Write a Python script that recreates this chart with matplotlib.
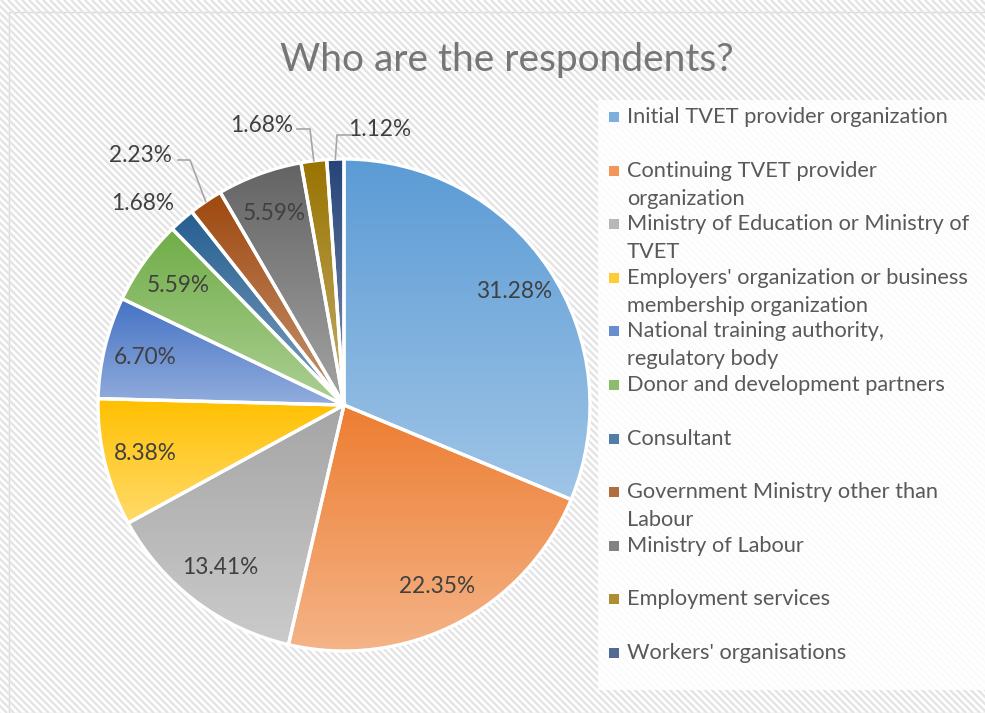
import numpy as np
import matplotlib.pyplot as plt
from matplotlib.patches import Rectangle
from matplotlib.collections import LineCollection
from matplotlib.colors import to_rgb

# Data
categories = [
    "Initial TVET provider organization",
    "Continuing TVET provider\norganization",
    "Ministry of Education or Ministry of\nTVET",
    "Employers' organization or business\nmembership organization",
    "National training authority,\nregulatory body",
    "Donor and development partners",
    "Consultant",
    "Government Ministry other than\nLabour",
    "Ministry of Labour",
    "Employment services",
    "Workers' organisations",
]
shares = [31.28, 22.35, 13.41, 8.38, 6.70, 5.59, 1.68, 2.23, 5.59, 1.68, 1.12]
colors = ["#5B9BD5", "#ED7D31", "#A5A5A5", "#FFC000", "#4472C4", "#70AD47",
          "#255E91", "#9E480E", "#636363", "#997300", "#264478"]

W, H = 985, 713
FONT = "Lato"


def py(y):
    # pixel row (from top) -> axes y (from bottom)
    return H - y


fig = plt.figure(figsize=(W / 100, H / 100), dpi=100)
ax = fig.add_axes([0, 0, 1, 1])
ax.set_axis_off()

# Chart area: light border + diagonal stripes
area = Rectangle((9, 0), W, py(12), facecolor="white", edgecolor="#D9D9D9", lw=1, zorder=0)
ax.add_patch(area)
step = 7
cs = np.arange(0, W + H + step, step)
segs = [[(c - H, H), (c, 0)] for c in cs]
stripes = LineCollection(segs, colors="#E4E4E4", linewidths=1.7, zorder=0.5)
stripes.set_clip_path(area)
ax.add_collection(stripes)

# Pie
CX, CY, R = 344, py(405), 246
wedges, _ = ax.pie(shares, center=(CX, CY), radius=R, startangle=90, counterclock=False,
                   wedgeprops=dict(linewidth=2.4, edgecolor="white", facecolor="none", zorder=3))

# vertical gradient in each slice: base colour at top, lighter tint at bottom
for w, col in zip(wedges, colors):
    base = np.array(to_rgb(col))
    light = base + (1 - base) * 0.42
    t = np.linspace(0, 1, 256)[:, None, None]
    grad = base * (1 - t) + light * t
    grad = np.repeat(grad, 2, axis=1)
    bb = w.get_path().get_extents()
    im = ax.imshow(grad, extent=[bb.x0, bb.x1, bb.y0, bb.y1], origin="upper",
                   aspect="auto", zorder=2, interpolation="bilinear")
    im.set_clip_path(w)

# Percentage labels
outside = {
    # index: (label centre, leader points) in pixels from top-left
    6: ((143, 203), None),
    7: ((140, 155), [(178, 160), (190, 160)]),
    9: ((262, 125), [(297, 129), (310, 129)]),
    10: ((380, 130), [(351, 135), (337, 135)]),
}
for i, (w, v) in enumerate(zip(wedges, shares)):
    mid = np.deg2rad((w.theta1 + w.theta2) / 2)
    txt = f"{v:.2f}%"
    if i in outside:
        (lx, ly), lead = outside[i]
        ax.text(lx, py(ly), txt, ha="center", va="center", fontsize=16.3,
                color="#404040", family=FONT, zorder=5)
        if lead:
            ex, ey = CX + R * np.cos(mid), CY + R * np.sin(mid)
            xs = [p[0] for p in lead] + [ex]
            ys = [py(p[1]) for p in lead] + [ey]
            ax.plot(xs, ys, color="#A6A6A6", lw=1.2, zorder=4)
    else:
        r = 0.83 * R
        ax.text(CX + r * np.cos(mid), CY + r * np.sin(mid), txt, ha="center", va="center",
                fontsize=16.3, color="#404040", family=FONT, zorder=5)

# Title
ax.text(507, py(60), "Who are the respondents?", ha="center", va="center",
        fontsize=28, color="#767676", family=FONT, zorder=5)

# Legend (Excel-style: fixed slot per entry, wrapped lines overflow)
ax.add_patch(Rectangle((598, py(690)), W - 598, 590, facecolor="white", alpha=0.85,
                       edgecolor="none", zorder=1))
slot0, slot_h, line_h = 117, 53.6, 28
for i, (lab, col) in enumerate(zip(categories, colors)):
    y0 = slot0 + i * slot_h
    base = np.array(to_rgb(col))
    ax.add_patch(Rectangle((609, py(y0 + 5)), 10, 10, facecolor=base + (1 - base) * 0.2,
                           edgecolor="none", zorder=5))
    for k, line in enumerate(lab.split("\n")):
        ax.text(627, py(y0 + k * line_h), line, ha="left", va="center", fontsize=15.7,
                color="#595959", family=FONT, zorder=5)

ax.set_xlim(0, W)
ax.set_ylim(0, H)
fig.savefig("out.png", dpi=100)
